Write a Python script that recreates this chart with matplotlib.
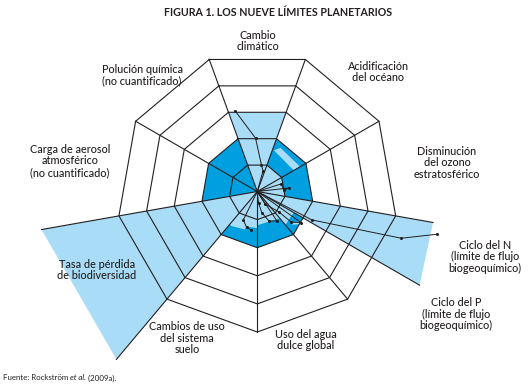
import numpy as np
import matplotlib
matplotlib.use("Agg")
import matplotlib.pyplot as plt
from matplotlib.patches import Polygon

W, H, DPI = 528, 389, 100
FONT = "Lato"

# ---------------- data ----------------
title = "FIGURA 1. LOS NUEVE LÍMITES PLANETARIOS"
source_parts = ["Fuente: Rockström ", "et al.", " (2009a)."]

labels = ["Cambio\nclimático", "Acidificación\ndel océano",
          "Disminución\ndel ozono\nestratosférico",
          "Ciclo del N\n(límite de flujo\nbiogeoquímico)",
          "Ciclo del P\n(límite de flujo\nbiogeoquímico)",
          "Uso del agua\ndulce global", "Cambios de uso\ndel sistema\nsuelo",
          "Tasa de pérdida\nde biodiversidad",
          "Carga de aerosol\natmosférico\n(no cuantificado)",
          "Polución química\n(no cuantificado)"]
label_px = [(258, 41), (378, 72), (447, 163), (485, 257), (456, 314),
            (306, 340), (187, 338), (97, 270), (70, 161), (142, 75)]

sector_bounds = [110, 70, 30, -10, -50, -90, -130, -170, -210]  # 9 sectors, deg
n_rings = 5
safe_ring = 2
split_angle = -30  # N / P split inside the biogeochemical sector

# current-status wedges that cross the boundary (angle and radius of each edge)
status_a1 = [70, -30, -170]
status_a2 = [110, -10, -130]
status_r1 = [3.0, 6.67, 7.8]
status_r2 = [3.0, 6.35, 7.8]

# current-status wedges inside the safe zone
inner_a1 = [-10, 30, -50, -90, -130]
inner_a2 = [30, 70, -30, -50, -90]
inner_r1 = [1.0, 1.0, 1.55, 1.2, 1.55]
inner_r2 = [1.0, 1.0, 1.5, 1.25, 1.3]

# light bands (angle, radius) corners
stripe_ocean_t = [68.0, 62.0, 30.0, 30.0]
stripe_ocean_r = [1.58, 1.76, 1.76, 1.5]
stripe_land_t = [-128, -128, -108, -108]
stripe_land_r = [1.42, 1.55, 1.42, 1.32]
stripe_phos_t = [-44, -40, -33, -37]
stripe_phos_r = [1.7, 1.72, 1.9, 1.93]

# trajectories (radius in ring units, angle in degrees)
climate_r = [0, 0.76, 0.95, 1.90, 2.98]
climate_t = [0, 74.5, 81.0, 91.9, 105.4]
ozone_r = [0, 0.89, 0.95, 1.13, 0]
ozone_t = [0, 17.6, 3.2, 6.3, 0]
nitro_r = [0, 2.19, 5.38, 6.57]
nitro_t = [0, -27.5, -18.0, -13.4]
phos_r = [0, 0.52, 1.06, 1.62, 1.91, 0]
phos_t = [0, -58.4, -43.4, -42.1, -35.4, 0]
water_r = [0, 0.41, 0.78, 1.13, 1.26, 0]
water_t = [0, -84.0, -77.7, -68.4, -56.3, 0]
land_r = [0, 1.13, 1.33, 1.39]
land_t = [0, -116.2, -106.5, -99.3]

DARK = "#00a0e0"
LIGHT = "#a9dcf6"
LINE = "#231f20"

# ---------------- geometry ----------------
CX, CY, UNIT = 257.3, 191.5, 28.1  # pixel centre and ring size (for axes limits only)


def pol(r, t):
    t = np.radians(np.asarray(t, float))
    r = np.asarray(r, float)
    return r * np.cos(t), r * np.sin(t)


fig = plt.figure(figsize=(W / DPI, H / DPI), dpi=DPI)
ax = fig.add_axes([0, 0, 1, 1])
ax.set_xlim(-CX / UNIT, (W - CX) / UNIT)
ax.set_ylim(-(H - CY) / UNIT, CY / UNIT)
ax.axis("off")

# safe zone
xs, ys = pol([safe_ring] * 9, sector_bounds)
ax.add_patch(Polygon(np.c_[xs, ys], closed=True, fc=DARK, ec="none", zorder=1))

# status wedges
for a1, a2, r1, r2 in zip(status_a1, status_a2, status_r1, status_r2):
    x, y = pol([0, r1, r2], [0, a1, a2])
    ax.add_patch(Polygon(np.c_[x, y], closed=True, fc=LIGHT, ec="none", zorder=2))
for a1, a2, r1, r2 in zip(inner_a1, inner_a2, inner_r1, inner_r2):
    x, y = pol([0, r1, r2], [0, a1, a2])
    ax.add_patch(Polygon(np.c_[x, y], closed=True, fc=LIGHT, ec="none", zorder=2))
for tt, rr in [(stripe_ocean_t, stripe_ocean_r), (stripe_land_t, stripe_land_r),
               (stripe_phos_t, stripe_phos_r)]:
    x, y = pol(rr, tt)
    ax.add_patch(Polygon(np.c_[x, y], closed=True, fc=LIGHT, ec="none", zorder=2))

lw = 0.8
# rings
for k in range(1, n_rings + 1):
    x, y = pol([k] * 10, sector_bounds + [sector_bounds[0]])
    ax.plot(x, y, color=LINE, lw=lw, zorder=3, solid_joinstyle="miter")
# spokes
ext = {-10: status_r2[1], -130: status_r2[2], -170: status_r1[2]}
for a in sector_bounds:
    r = max(n_rings, ext.get(a, n_rings))
    x, y = pol([0, r], [a, a])
    ax.plot(x, y, color=LINE, lw=lw, zorder=3)
x, y = pol([0, status_r1[1]], [split_angle, split_angle])
ax.plot(x, y, color=LINE, lw=lw, zorder=3)

# trajectories
for rr, tt in [(climate_r, climate_t), (ozone_r, ozone_t), (nitro_r, nitro_t),
               (phos_r, phos_t), (water_r, water_t), (land_r, land_t)]:
    x, y = pol(rr, tt)
    ax.plot(x, y, color=LINE, lw=0.7, zorder=4)
    ax.plot(x[1:], y[1:], "o", color=LINE, ms=2.2, zorder=5, mec="none")

# labels
fs = 7.8
for lab, (px, py) in zip(labels, label_px):
    fig.text(px / W, 1 - py / H, lab, ha="center", va="center", fontsize=fs,
             family=FONT, weight=500, color="#231f20", linespacing=1.05)

fig.text(278 / W, 1 - 13 / H, title, ha="center", va="center", fontsize=7.7,
         family=FONT, weight="bold", color="#231f20")

# source line
fig.canvas.draw()
renderer = fig.canvas.get_renderer()
xpx = 3
for i, part in enumerate(source_parts):
    t = fig.text(xpx / W, 1 - 378 / H, part, ha="left", va="center", fontsize=5.7,
                 family=FONT, style="italic" if i == 1 else "normal", color="#231f20")
    bb = t.get_window_extent(renderer)
    xpx += bb.width

fig.savefig("out.png", dpi=DPI)
